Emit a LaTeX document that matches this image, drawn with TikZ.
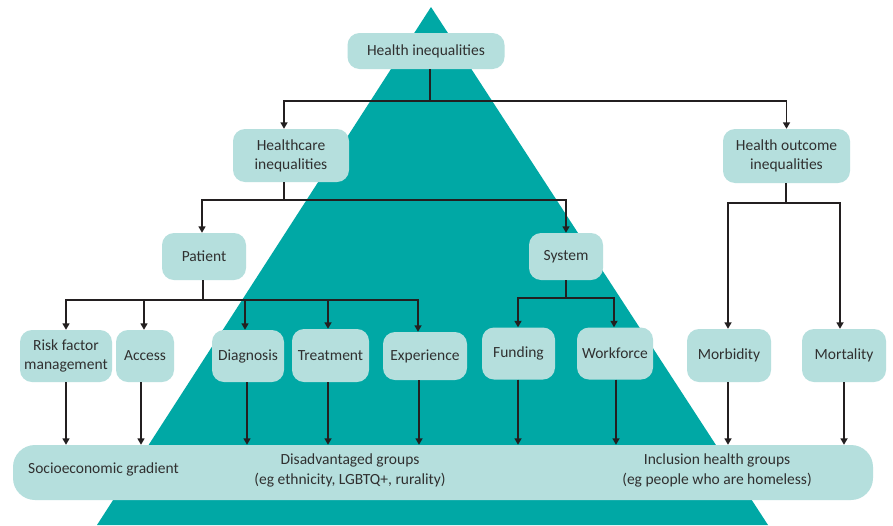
\documentclass[tikz,border=0pt]{standalone}
\usepackage{fontspec}
\setmainfont{Carlito}
\usetikzlibrary{arrows.meta,calc}
\definecolor{tealbg}{HTML}{00A8A5}
\definecolor{boxfill}{HTML}{B5DFDD}
\definecolor{txtc}{HTML}{303030}
\definecolor{linec}{HTML}{231F20}
\tikzset{
  box/.style={rounded corners=12pt, fill=boxfill, text=txtc, align=center, inner sep=0pt,
    font=\fontsize{15.5}{19}\selectfont},
  lbl/.style={text=txtc, align=center, inner sep=0pt, font=\fontsize{15.5}{20}\selectfont},
  conn/.style={draw=linec, line width=1.6pt},
  arr/.style={conn, -{Triangle[width=7pt,length=6.5pt]}}
}
\begin{document}
\begin{tikzpicture}[x=1pt,y=-1pt]
\useasboundingbox (0,0) rectangle (893,525);
\fill[white] (0,0) rectangle (893,525);
\fill[tealbg] (97,525) -- (431,7) -- (768,525) -- cycle;

% nodes
\node[box, minimum width=157pt, minimum height=36pt] (hi) at (426,51) {Health inequalities};
\node[box, minimum width=116pt, minimum height=53pt] (hc) at (291,155.5) {Healthcare\\inequalities};
\node[box, minimum width=127pt, minimum height=54pt] (ho) at (786.5,156) {Health outcome\\inequalities};
\node[box, minimum width=84pt, minimum height=47pt] (pat) at (204,256.5) {Patient};
\node[box, minimum width=74pt, minimum height=47pt] (sys) at (566,256.5) {System};
\node[box, minimum width=92pt, minimum height=52pt] (risk) at (66,356) {Risk factor\\management};
\node[box, minimum width=58pt, minimum height=52pt] (acc) at (145,356) {Access};
\node[box, minimum width=72pt, minimum height=52pt] (diag) at (248,356) {Diagnosis};
\node[box, minimum width=77pt, minimum height=53pt] (treat) at (330.5,355.5) {Treatment};
\node[box, minimum width=84pt, minimum height=48pt] (exp) at (425,356) {Experience};
\node[box, minimum width=73pt, minimum height=52pt] (fund) at (518.5,353.5) {Funding};
\node[box, minimum width=76pt, minimum height=52pt] (work) at (615,353.5) {Workforce};
\node[box, minimum width=84pt, minimum height=53pt] (morb) at (729,355.5) {Morbidity};
\node[box, minimum width=84pt, minimum height=53pt] (mort) at (844,355.5) {Mortality};
\node[box, rounded corners=22pt, minimum width=860pt, minimum height=55pt] (bar) at (443,472.5) {};
\node[lbl, anchor=west] (seg) at (28,469) {Socioeconomic gradient};
\node[lbl] (dis) at (350,470) {Disadvantaged groups\\(eg ethnicity, LGBTQ+, rurality)};
\node[lbl] (inc) at (717,470) {Inclusion health groups\\(eg people who are homeless)};

% junctions
\coordinate (j1) at (430,101);
\coordinate (j2) at (284,200);
\coordinate (j3) at (203,300);
\coordinate (j4) at (566,298);
\coordinate (j5) at (786,203);

\draw[conn] (hi.south -| j1) -- (j1);
\draw[arr] (j1) -| ([xshift=-7pt]hc.north);
\draw[arr] (j1) -| (ho.north);

\draw[conn] (hc.south -| j2) -- (j2);
\draw[arr] (j2) -| ([xshift=-2pt]pat.north);
\draw[arr] (j2) -| (sys.north);

\draw[conn] (pat.south -| j3) -- (j3);
\draw[arr] (j3) -| (risk.north);
\draw[arr] (j3) -| ([xshift=-1pt]acc.north);
\draw[arr] (j3) -| ([xshift=-3pt]diag.north);
\draw[arr] (j3) -| ([xshift=-2.5pt]treat.north);
\draw[arr] (j3) -| ([xshift=-7pt]exp.north);

\draw[conn] (sys.south -| j4) -- (j4);
\draw[arr] (j4) -| ([xshift=-0.5pt]fund.north);
\draw[arr] (j4) -| ([xshift=-1pt]work.north);

\draw[conn] (ho.south -| j5) -- (j5);
\draw[arr] (j5) -| ([xshift=-1pt]morb.north);
\draw[arr] (j5) -| ([xshift=-4pt]mort.north);

% down to bar
\draw[arr] (risk.south) -- (risk.south |- bar.north);
\draw[arr] ([xshift=-4pt]acc.south) -- ([xshift=-4pt]acc.south |- bar.north);
\draw[arr] ([xshift=-1pt]diag.south) -- ([xshift=-1pt]diag.south |- bar.north);
\draw[arr] ([xshift=-2.5pt]treat.south) -- ([xshift=-2.5pt]treat.south |- bar.north);
\draw[arr] ([xshift=-6pt]exp.south) -- ([xshift=-6pt]exp.south |- bar.north);
\draw[arr] ([xshift=-0.5pt]fund.south) -- ([xshift=-0.5pt]fund.south |- bar.north);
\draw[arr] ([xshift=1pt]work.south) -- ([xshift=1pt]work.south |- bar.north);
\draw[arr] ([xshift=-1pt]morb.south) -- ([xshift=-1pt]morb.south |- bar.north);
\draw[arr] (mort.south) -- (mort.south |- bar.north);
\end{tikzpicture}
\end{document}
